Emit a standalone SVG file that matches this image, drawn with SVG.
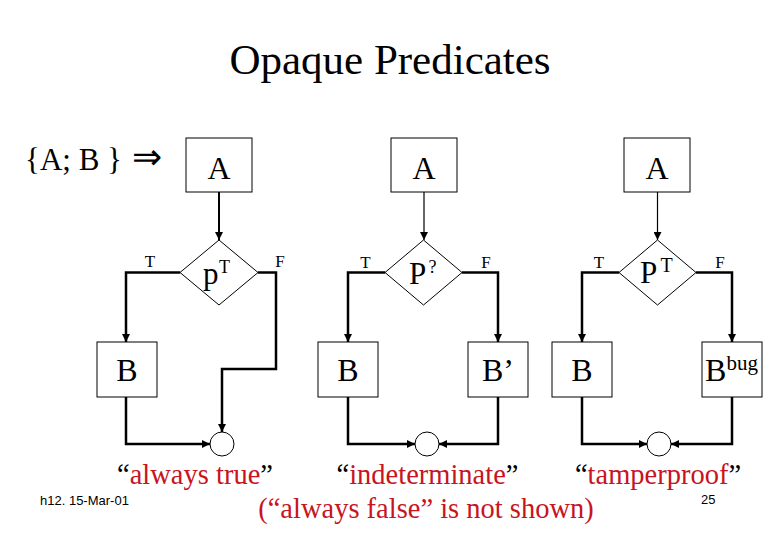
<svg xmlns="http://www.w3.org/2000/svg" width="780" height="540" viewBox="0 0 780 540">
<style>
text{font-family:"Liberation Serif","Times New Roman",serif;fill:#000}
.box{fill:#fff;stroke:#000;stroke-width:1}
.dia{fill:#fff;stroke:#000;stroke-width:1}
.join{fill:#fff;stroke:#000;stroke-width:1}
.thick{fill:none;stroke:#000;stroke-width:2.5;stroke-linejoin:miter}
.thin{fill:none;stroke:#000;stroke-width:1.2}
.lbl{font-size:17px;text-anchor:middle}
.mid{text-anchor:middle}
.red{fill:#c8141e}
.cap{font-size:28.5px;text-anchor:middle}
.foot{font-family:"Liberation Sans",Arial,sans-serif;font-size:13px}
</style>
<defs>
<marker id="ah" viewBox="0 0 8 8" refX="8" refY="4" markerWidth="8" markerHeight="8" markerUnits="userSpaceOnUse" orient="auto">
<path d="M0,0 L8,4 L0,8 z" fill="#000"/>
</marker>
</defs>
<rect width="780" height="540" fill="#fff"/>
<text x="390" y="74" font-size="43" text-anchor="middle">Opaque Predicates</text>
<text x="25" y="170" font-size="31">{A; B }</text>
<text x="132" y="169" font-size="36" font-family="DejaVu Serif,serif">⇒</text>

<g id="connectors">
<path class="thick" d="M219,192 V240" marker-end="url(#ah)" style="stroke-width:2"/>
<path class="thick" d="M180,272.5 H126 V342" marker-end="url(#ah)"/>
<path class="thick" d="M258,272.5 H276 V369 H222 V432" marker-end="url(#ah)"/>
<path class="thick" d="M126,397 V444 H210" marker-end="url(#ah)"/>
<path class="thin" d="M424,192 V240" marker-end="url(#ah)"/>
<path class="thick" d="M385,272.5 H348 V342" marker-end="url(#ah)"/>
<path class="thick" d="M462,272.5 H498 V342" marker-end="url(#ah)"/>
<path class="thick" d="M348,397 V444 H415" marker-end="url(#ah)"/>
<path class="thick" d="M498,397 V444 H439" marker-end="url(#ah)"/>
<path class="thin" d="M657.5,192 V240" marker-end="url(#ah)"/>
<path class="thick" d="M619,272.5 H582 V342" marker-end="url(#ah)"/>
<path class="thick" d="M696,272.5 H732 V342" marker-end="url(#ah)"/>
<path class="thick" d="M582,397 V444 H647" marker-end="url(#ah)"/>
<path class="thick" d="M732,397 V444 H671" marker-end="url(#ah)"/>
<text class="lbl" x="150" y="267">T</text>
<text class="lbl" x="280" y="267">F</text>
<text class="lbl" x="365.5" y="267.5">T</text>
<text class="lbl" x="486" y="267.5">F</text>
<text class="lbl" x="599" y="267.5">T</text>
<text class="lbl" x="720" y="267.5">F</text>
</g>

<g id="A1"><rect class="box" x="186" y="138" width="66" height="54"/><text class="mid" x="219" y="179" font-size="32">A</text></g>
<g id="P1"><polygon class="dia" points="219,240 258,272.5 219,305 180,272.5"/><text x="203" y="284" font-size="31">p</text><text x="219" y="273" font-size="18">T</text></g>
<g id="B1"><rect class="box" x="97" y="342" width="60" height="55"/><text class="mid" x="127" y="381" font-size="32">B</text></g>
<g id="J1"><circle class="join" cx="222" cy="444" r="12"/></g>

<g id="A2"><rect class="box" x="391" y="138" width="66" height="54"/><text class="mid" x="424" y="179" font-size="32">A</text></g>
<g id="P2"><polygon class="dia" points="423.5,240 462,272.5 423.5,305 385,272.5"/><text x="409" y="284" font-size="31">P</text><text x="428.5" y="273" font-size="18">?</text></g>
<g id="B2"><rect class="box" x="318" y="342" width="60" height="55"/><text class="mid" x="348" y="381" font-size="32">B</text></g>
<g id="B2p"><rect class="box" x="468" y="342" width="60" height="55"/><text class="mid" x="498" y="381" font-size="32">B’</text></g>
<g id="J2"><circle class="join" cx="427" cy="444" r="12"/></g>

<g id="A3"><rect class="box" x="624" y="138" width="66" height="54"/><text class="mid" x="657" y="179" font-size="32">A</text></g>
<g id="P3"><polygon class="dia" points="657.5,240 696,272.5 657.5,305 619,272.5"/><text x="640" y="283" font-size="31">P</text><text x="660.5" y="271.7" font-size="20">T</text></g>
<g id="B3"><rect class="box" x="552" y="342" width="60" height="55"/><text class="mid" x="582" y="381" font-size="32">B</text></g>
<g id="B3bug"><rect class="box" x="702" y="342" width="60" height="55"/><text x="705" y="381" font-size="32">B</text><text x="726.5" y="370" font-size="21">bug</text></g>
<g id="J3"><circle class="join" cx="659" cy="444" r="12"/></g>

<text class="cap" x="195" y="484">“<tspan class="red">always true</tspan>”</text>
<text class="cap" x="427.5" y="484">“<tspan class="red">indeterminate</tspan>”</text>
<text class="cap" x="658" y="484">“<tspan class="red">tamperproof</tspan>”</text>
<text class="cap red" x="426" y="518">(“always false” is not shown)</text>
<text class="foot" x="40" y="505">h12. 15-Mar-01</text>
<text class="foot" x="701" y="504">25</text>
</svg>
